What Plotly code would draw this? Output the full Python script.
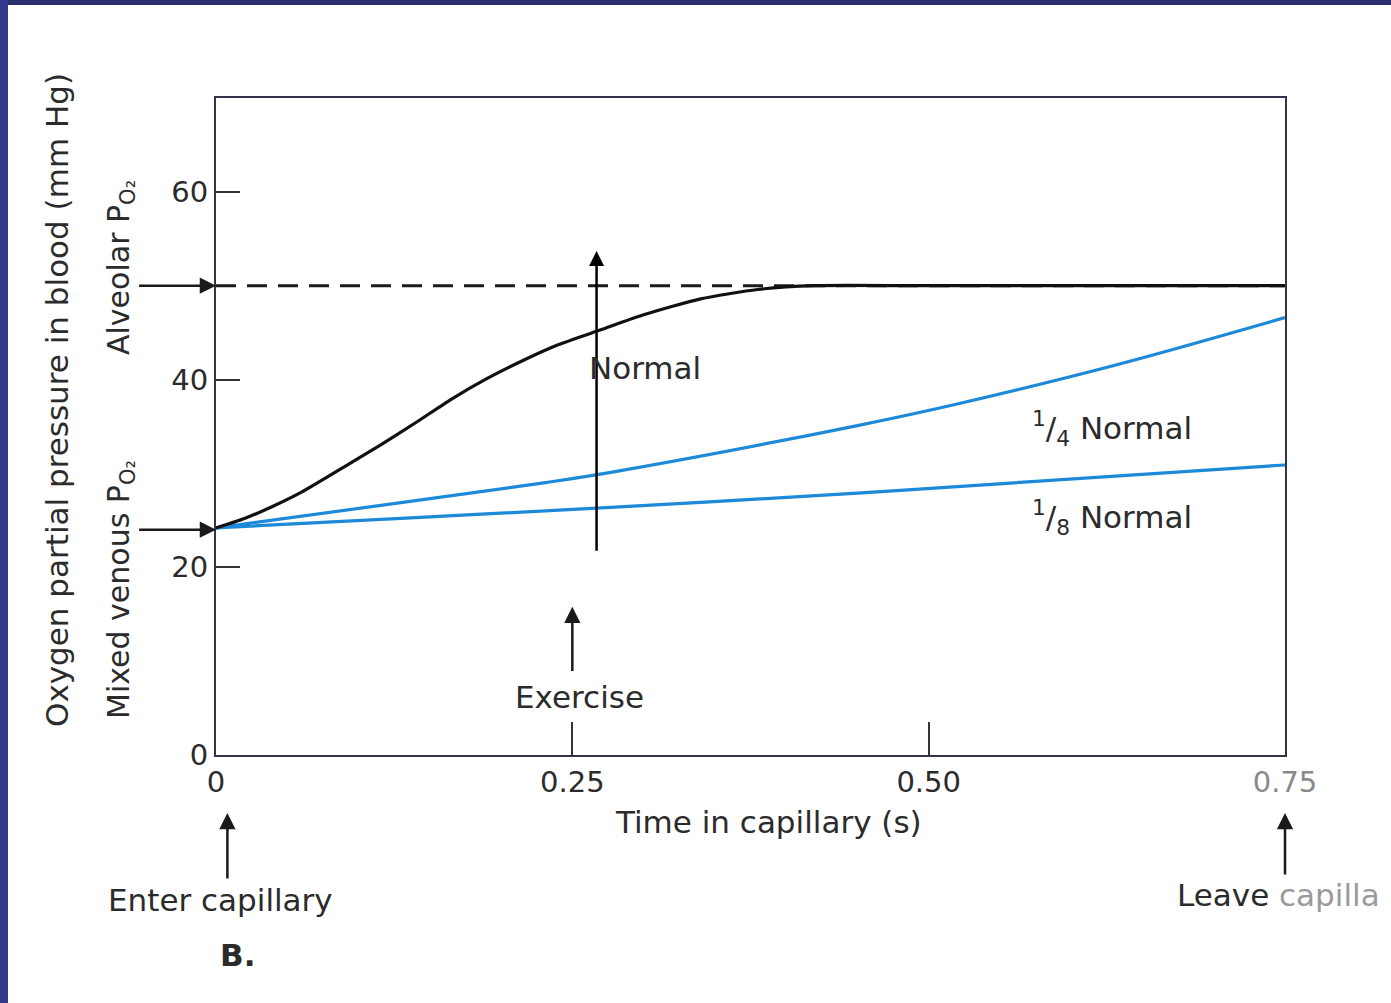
import plotly.graph_objects as go

# ---- data (time in s, PO2 in mm Hg) ----
alveolar_po2 = 50
venous_po2 = 24

normal_t = [0, 0.02, 0.04, 0.06, 0.09, 0.115, 0.14, 0.165, 0.19, 0.215, 0.24, 0.27,
            0.30, 0.34, 0.38, 0.42, 0.5, 0.75]
normal_v = [24.2, 25.2, 26.5, 28.0, 30.7, 33.0, 35.4, 37.9, 40.1, 42.0, 43.7, 45.3,
            46.9, 48.6, 49.6, 50.0, 50.0, 50.0]

quarter_t = [0, 0.14, 0.23, 0.28, 0.45, 0.52, 0.63, 0.75]
quarter_v = [24.2, 27.1, 29.0, 30.2, 35.1, 37.4, 41.5, 46.6]

eighth_t = [0, 0.14, 0.28, 0.45, 0.52, 0.75]
eighth_v = [24.2, 25.3, 26.4, 27.9, 28.6, 30.9]

x_ticks = [0, 0.25, 0.5, 0.75]
x_ticktext = ["0", "0.25", "0.50", "<span style='color:#8a8a8a'>0.75</span>"]
y_ticks = [0, 20, 40, 60]

exercise_t = 0.25
overlay_arrow_t = 0.267

FONT = "DejaVu Sans, Liberation Sans, sans-serif"
TXT = "#2b2b2b"
BLUE = "#1c8ad8"

W, H = 1391, 1003
L, R, T, B = 216, 1285, 98, 755


def px(xp):
    return (xp - L) / (R - L)


def py(yp):
    return (B - yp) / (B - T)


fig = go.Figure()

fig.add_trace(go.Scatter(x=[0, 0.75], y=[alveolar_po2, alveolar_po2], mode="lines",
                         line=dict(color="#1a1a1a", width=3, dash="20px,11px"),
                         hoverinfo="skip"))
fig.add_trace(go.Scatter(x=quarter_t, y=quarter_v, mode="lines", line_shape="spline",
                         line=dict(color=BLUE, width=3.2, smoothing=1.0)))
fig.add_trace(go.Scatter(x=eighth_t, y=eighth_v, mode="lines", line_shape="spline",
                         line=dict(color=BLUE, width=3.2, smoothing=1.0)))
fig.add_trace(go.Scatter(x=normal_t, y=normal_v, mode="lines", line_shape="spline",
                         line=dict(color="#111111", width=3.2, smoothing=0.6)))

ann = []


def arrow(x, y, ax, ay, width=2.5, size=1.3, color="#1a1a1a", xref="x", yref="y"):
    ann.append(dict(x=x, y=y, ax=ax, ay=ay, xref=xref, yref=yref,
                    axref=xref, ayref=yref, text="", showarrow=True,
                    arrowhead=2, arrowsize=size, arrowwidth=width, arrowcolor=color))


def text(x, y, s, size=31, color=TXT, angle=0, xanchor="center", xref="paper", yref="paper"):
    ann.append(dict(x=x, y=y, xref=xref, yref=yref, text=s, showarrow=False,
                    textangle=angle, xanchor=xanchor, yanchor="middle",
                    font=dict(family=FONT, size=size, color=color)))


# side arrows into the y axis
arrow(0, alveolar_po2, -0.055, alveolar_po2)
arrow(0, venous_po2, -0.055, venous_po2)
# exercise arrow
arrow(exercise_t, 15.8, exercise_t, 8.8)
# overlay vertical arrow
arrow(overlay_arrow_t, 53.7, overlay_arrow_t, 21.6, width=2.5, size=1.2, color="#000000")
# enter / leave arrows (below the axis)
arrow(0.008, py(813), 0.008, py(880), xref="x", yref="y domain")
arrow(0.75, py(813), 0.75, py(876), xref="x", yref="y domain")

# texts
text(px(57), py(400), "Oxygen partial pressure in blood (mm Hg)", size=31, angle=-90)
text(px(120), py(268), "Alveolar P<sub>O₂</sub>", size=30, angle=-90)
text(px(120), py(590), "Mixed venous P<sub>O₂</sub>", size=30, angle=-90)
text(px(645), py(368), "Normal")
text(px(1112), py(428), "<sup>1</sup>/<sub>4</sub> Normal")
text(px(1112), py(517), "<sup>1</sup>/<sub>8</sub> Normal")
text(px(579), py(697), "Exercise")
text(px(768), py(822), "Time in capillary (s)")
text(px(220), py(900), "Enter capillary")
text(px(1175), py(895), "Leave <span style='color:#9a9a9a'>capilla</span>", xanchor="left")
text(px(218), py(955), "<b>B.</b>", xanchor="left")

shapes = [
    dict(type="rect", xref="paper", yref="paper", x0=px(0), x1=px(W), y0=py(0), y1=py(5),
         fillcolor="#2c2f6e", line_width=0, layer="above"),
    dict(type="rect", xref="paper", yref="paper", x0=px(0), x1=px(8), y0=py(H), y1=py(0),
         fillcolor="#33398c", line_width=0, layer="above"),
]

fig.update_layout(
    width=W, height=H,
    margin=dict(l=L, r=W - R, t=T, b=H - B, pad=0),
    paper_bgcolor="white", plot_bgcolor="white",
    showlegend=False,
    annotations=ann, shapes=shapes,
    font=dict(family=FONT, color=TXT),
    xaxis=dict(range=[0, 0.75], tickvals=x_ticks, ticktext=x_ticktext,
               ticks="inside", ticklen=33, tickwidth=2, tickcolor="#333333",
               showline=True, mirror=True, linecolor="#33334a", linewidth=2,
               showgrid=False, zeroline=False,
               tickfont=dict(family=FONT, size=29, color=TXT)),
    yaxis=dict(range=[0, 70], tickvals=y_ticks,
               ticks="inside", ticklen=24, tickwidth=2, tickcolor="#333333",
               showline=True, mirror=True, linecolor="#33334a", linewidth=2,
               showgrid=False, zeroline=False,
               tickfont=dict(family=FONT, size=29, color=TXT)),
)

fig.write_html("out.html")
